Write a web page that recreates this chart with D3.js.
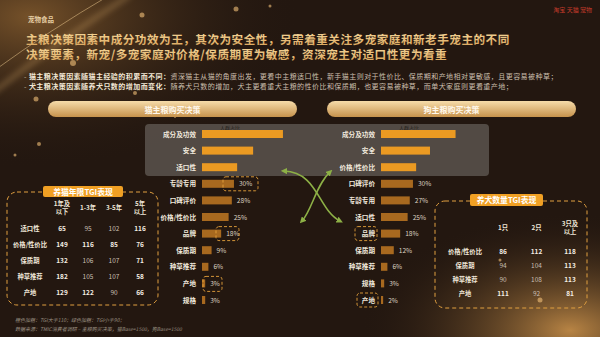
<!DOCTYPE html>
<html>
<head>
<meta charset="utf-8">
<script src="https://cdn.jsdelivr.net/npm/d3@7/dist/d3.min.js"></script>
<style>
  html, body { margin: 0; padding: 0; background: #231710; }
  svg { display: block; font-family: "Noto Sans CJK SC", "Noto Sans", sans-serif; }
</style>
</head>
<body>
<div id="chart"></div>
<script>
// cat purchase decision factors
const catFactors = ["成分及功效", "安全", "适口性", "专龄专用", "口碑评价", "价格/性价比", "品牌", "保质期", "种草推荐", "产地", "规格"];
const catShares = [76, 48, 33, 30, 28, 25, 18, 9, 6, 3, 3];
// dog purchase decision factors
const dogFactors = ["成分及功效", "安全", "价格/性价比", "口碑评价", "专龄专用", "适口性", "品牌", "保质期", "种草推荐", "规格", "产地"];
const dogShares = [70, 46, 33, 30, 27, 25, 18, 12, 6, 3, 2];

// TGI tables
const catYears = ["1年及\n以下", "1-3年", "3-5年", "5年\n以上"];
const catRows = ["适口性", "价格/性价比", "保质期", "种草推荐", "产地"];
const catTgi = [
  [65, 95, 102, 116],
  [149, 116, 85, 76],
  [132, 106, 107, 71],
  [182, 105, 107, 58],
  [129, 122, 90, 66]
];
const dogCounts = ["1只", "2只", "3只及\n以上"];
const dogRows = ["价格/性价比", "保质期", "种草推荐", "产地"];
const dogTgi = [
  [86, 112, 118],
  [94, 104, 113],
  [90, 108, 113],
  [111, 92, 81]
];

const width = 600, height = 337;
const svg = d3.select("#chart").append("svg")
  .attr("width", width).attr("height", height)
  .attr("viewBox", `0 0 ${width} ${height}`);

const defs = svg.append("defs");
//background glows
const glowTL = defs.append("radialGradient").attr("id", "glowTL").attr("cx", 0.05).attr("cy", 0.05).attr("r", 0.45);
glowTL.append("stop").attr("offset", 0).attr("stop-color", "#8a6030").attr("stop-opacity", 0.8);
glowTL.append("stop").attr("offset", 1).attr("stop-color", "#231710").attr("stop-opacity", 0);
const glowBR = defs.append("radialGradient").attr("id", "glowBR").attr("cx", 0.95).attr("cy", 0.98).attr("r", 0.35);
glowBR.append("stop").attr("offset", 0).attr("stop-color", "#c8904a").attr("stop-opacity", 0.9);
glowBR.append("stop").attr("offset", 1).attr("stop-color", "#231710").attr("stop-opacity", 0);
const pill = defs.append("linearGradient").attr("id", "pill").attr("x1", 0).attr("y1", 0).attr("x2", 0).attr("y2", 1);
pill.append("stop").attr("offset", 0).attr("stop-color", "#f6dcaa");
pill.append("stop").attr("offset", 1).attr("stop-color", "#c6924c");
const titleGrad = defs.append("linearGradient").attr("id", "titleGrad").attr("x1", 0).attr("y1", 0).attr("x2", 0).attr("y2", 1);
titleGrad.append("stop").attr("offset", 0).attr("stop-color", "#f8dca0");
titleGrad.append("stop").attr("offset", 1).attr("stop-color", "#d9a45a");
defs.append("filter").attr("id", "blur").append("feGaussianBlur").attr("stdDeviation", 3);
defs.append("marker").attr("id", "arrow").attr("viewBox", "0 0 10 10").attr("refX", 5).attr("refY", 5)
  .attr("markerWidth", 4).attr("markerHeight", 4).attr("orient", "auto-start-reverse")
  .append("path").attr("d", "M0,0 L10,5 L0,10 z").attr("fill", "#8db046");

svg.append("rect").attr("width", width).attr("height", height).attr("fill", "#231710");
svg.append("rect").attr("width", width).attr("height", height).attr("fill", "url(#glowTL)");
svg.append("rect").attr("width", width).attr("height", height).attr("fill", "url(#glowBR)");
//golden streaks top-left
svg.append("path").attr("d", "M-10,95 Q60,40 130,-5").attr("stroke", "#d6a868").attr("stroke-width", 3)
  .attr("fill", "none").attr("opacity", 0.55).attr("filter", "url(#blur)");
svg.append("path").attr("d", "M-5,70 Q50,30 110,-5").attr("stroke", "#f0cc90").attr("stroke-width", 1)
  .attr("fill", "none").attr("opacity", 0.5);
//bokeh dots
const dots = [[142, 15, 2.5], [236, 9, 2.5], [73, 63, 3], [36, 99, 2.5], [39, 144, 2], [135, 93, 2], [270, 6, 1.5], [175, 117, 1], [500, 260, 1.5], [540, 300, 2.5], [15, 155, 1.5]];
svg.selectAll("circle.dot").data(dots).join("circle").attr("class", "dot")
  .attr("cx", d => d[0]).attr("cy", d => d[1]).attr("r", d => d[2])
  .attr("fill", "#f3c27a").attr("opacity", 0.6);

//header
svg.append("text").attr("x", 28).attr("y", 22).attr("font-size", 6.5).attr("font-weight", "bold")
  .attr("fill", "#e6cfa6").text("宠物食品");
svg.append("text").attr("x", 592).attr("y", 12).attr("text-anchor", "end").attr("font-size", 6)
  .attr("fill", "#c23a2a").text("淘宝  天猫  宠物");
const titleLines = ["主粮决策因素中成分功效为王，其次为安全性，另需着重关注多宠家庭和新老手宠主的不同",
  "决策要素，新宠/多宠家庭对价格/保质期更为敏感，资深宠主对适口性更为看重"];
titleLines.forEach((t, i) => {
  svg.append("text").attr("x", 26).attr("y", 44 + i * 15).attr("font-size", 11.6).attr("font-weight", "bold")
    .attr("letter-spacing", 0.5).attr("fill", "url(#titleGrad)").text(t);
});
const bullets = [
  ["猫主粮决策因素随猫主经验的积累而不同：", "资深猫主从猫的角度出发，更看中主粮适口性，新手猫主则对于性价比、保质期和产地相对更敏感，且更容易被种草；"],
  ["犬主粮决策因素随养犬只数的增加而变化：", "随养犬只数的增加，犬主更看重犬主粮的性价比和保质期，也更容易被种草，而单犬家庭则更看重产地；"]
];
bullets.forEach((b, i) => {
  const t = svg.append("text").attr("x", 24).attr("y", 79 + i * 9.5).attr("font-size", 7)
    .attr("letter-spacing", 0.45);
  t.append("tspan").attr("fill", "#bfb2a0").text("- ");
  t.append("tspan").attr("fill", "#f1e6d4").attr("font-weight", "bold").text(b[0]);
  t.append("tspan").attr("fill", "#cbbfae").text(b[1]);
});

//section pills
[["猫主粮购买决策", 48, 297], ["狗主粮购买决策", 327, 576]].forEach(([label, x0, x1]) => {
  svg.append("rect").attr("x", x0).attr("y", 101).attr("width", x1 - x0).attr("height", 16).attr("rx", 8)
    .attr("fill", "url(#pill)");
  svg.append("text").attr("x", (x0 + x1) / 2).attr("y", 112.5).attr("text-anchor", "middle")
    .attr("font-size", 8).attr("font-weight", "bold").attr("fill", "#fff8ec").text(label);
});

//grey highlight panel for top 3
svg.append("rect").attr("x", 145).attr("y", 124).attr("width", 344).attr("height", 52).attr("rx", 4)
  .attr("fill", "#7a7470").attr("opacity", 0.55);

const xScale = d3.scaleLinear().domain([0, 100]).range([0, 106.5]);

function drawBars(factors, shares, labelX) {
  const y = d3.scalePoint().domain(factors).range([134, 300]);
  const g = svg.append("g");
  g.append("text").attr("x", labelX + 28).attr("y", 129.5).attr("text-anchor", "middle")
    .attr("font-size", 5).attr("fill", "#1e1a16").text("人群占比");
  factors.forEach((f, i) => {
    const yy = y(f);
    g.append("text").attr("x", labelX - 6).attr("y", yy + 2.5).attr("text-anchor", "end")
      .attr("font-size", 6.6).attr("font-weight", "bold").attr("fill", "#f0e8dc").text(f);
    g.append("rect").attr("x", labelX).attr("y", yy - 4).attr("width", xScale(shares[i])).attr("height", 8)
      .attr("fill", i < 3 ? "#eb9a22" : "#a8691f");
    if (i >= 3) {
      g.append("text").attr("x", labelX + xScale(shares[i]) + 5).attr("y", yy + 2.5)
        .attr("font-size", 6.6).attr("fill", "#ddd2c2").text(shares[i] + "%");
    }
  });
  return y;
}
const catY = drawBars(catFactors, catShares, 202);
const dogY = drawBars(dogFactors, dogShares, 381);

//dashed highlight boxes
function dashBox(x, y, w, h) {
  svg.append("rect").attr("x", x).attr("y", y).attr("width", w).attr("height", h).attr("rx", 3)
    .attr("fill", "none").attr("stroke", "#e7a33c").attr("stroke-width", 0.9).attr("stroke-dasharray", "3,2");
}
dashBox(223, catY("专龄专用") - 7, 35, 14);
dashBox(216, catY("品牌") - 7, 23, 14);
dashBox(203, catY("产地") - 7, 19, 15);
dashBox(355, dogY("品牌") - 7, 22, 14);
dashBox(357, dogY("产地") - 7, 21, 14);

//crossing arrows
svg.append("path").attr("d", "M340,221 C318,210 318,172 284,171")
  .attr("fill", "none").attr("stroke", "#8db046").attr("stroke-width", 1.6)
  .attr("marker-start", "url(#arrow)").attr("marker-end", "url(#arrow)");
svg.append("path").attr("d", "M330,172 C316,185 312,210 302,221")
  .attr("fill", "none").attr("stroke", "#8db046").attr("stroke-width", 1.6)
  .attr("marker-start", "url(#arrow)").attr("marker-end", "url(#arrow)");

//TGI tables
function tgiTable(title, box, pillBox, cols, colX, headY, rows, rowLabelX, rowY, values) {
  svg.append("rect").attr("x", box[0]).attr("y", box[1]).attr("width", box[2]).attr("height", box[3]).attr("rx", 10)
    .attr("fill", "none").attr("stroke", "#e1a040").attr("stroke-width", 1).attr("stroke-dasharray", "4,3");
  svg.append("rect").attr("x", pillBox[0]).attr("y", pillBox[1]).attr("width", pillBox[2]).attr("height", pillBox[3])
    .attr("rx", 2).attr("fill", "#f0a024");
  svg.append("text").attr("x", pillBox[0] + pillBox[2] / 2).attr("y", pillBox[1] + pillBox[3] / 2 + 3)
    .attr("text-anchor", "middle").attr("font-size", 7.8).attr("font-weight", "bold").attr("fill", "#fff").text(title);
  const x = d3.scalePoint().domain(cols).range(colX);
  const y = d3.scalePoint().domain(rows).range(rowY);
  cols.forEach(c => {
    const parts = c.split("\n");
    parts.forEach((p, k) => {
      svg.append("text").attr("x", x(c)).attr("y", headY + (k - (parts.length - 1) / 2) * 8 + 2.5)
        .attr("text-anchor", "middle").attr("font-size", 6.3).attr("font-weight", "bold").attr("fill", "#efe6d8").text(p);
    });
  });
  rows.forEach((r, i) => {
    svg.append("text").attr("x", rowLabelX).attr("y", y(r) + 2.5).attr("text-anchor", "middle")
      .attr("font-size", 6.3).attr("font-weight", "bold").attr("fill", "#efe6d8").text(r);
    values[i].forEach((v, j) => {
      const strong = v > 110 || v < 90;
      svg.append("text").attr("x", x(cols[j])).attr("y", y(r) + 2.5).attr("text-anchor", "middle")
        .attr("font-size", 6.5).attr("font-weight", strong ? "bold" : "normal")
        .attr("fill", strong ? "#f4ede2" : "#c9bfb2").text(v);
    });
  });
}
tgiTable("养猫年限TGI表现", [7, 192, 151, 113], [43, 186, 80, 11], catYears, [62, 140], 207,
  catRows, 30, [228, 292], catTgi);
tgiTable("养犬数量TGI表现", [435, 201, 152, 107], [470, 194, 73, 12], dogCounts, [503, 570], 227,
  dogRows, 465, [251, 293], dogTgi);

//footnotes
svg.append("text").attr("x", 15).attr("y", 322).attr("font-size", 5).attr("font-style", "italic")
  .attr("fill", "#9d9284").text("橙色加粗：TGI大于110；绿色加粗：TGI小于90；");
svg.append("text").attr("x", 15).attr("y", 331).attr("font-size", 5).attr("font-style", "italic")
  .attr("fill", "#9d9284").text("数据来源：TMIC消费者调研 – 主粮购买决策，猫Base=1500，狗Base=1500");
</script>
</body>
</html>
